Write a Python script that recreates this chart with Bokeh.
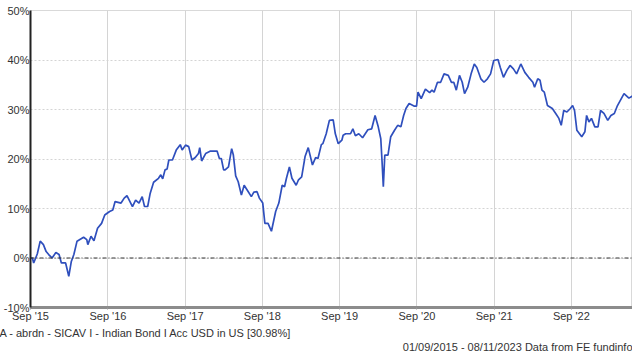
from datetime import datetime
import pandas as pd
from bokeh.plotting import figure
from bokeh.models import Range1d, FixedTicker, Span, Title
from bokeh.embed import file_html
from bokeh.resources import INLINE

dates = [
    "2015-09-01", "2015-09-10", "2015-09-16", "2015-10-03", "2015-10-17", "2015-11-01", "2015-11-14",
    "2015-11-26", "2015-12-12", "2015-12-30", "2016-01-14", "2016-01-25", "2016-02-14", "2016-02-29",
    "2016-03-12", "2016-03-24", "2016-04-08", "2016-05-09", "2016-05-24", "2016-05-29", "2016-06-13",
    "2016-06-27", "2016-07-14", "2016-08-02", "2016-08-17", "2016-09-09", "2016-09-24", "2016-10-05",
    "2016-11-02", "2016-11-17", "2016-11-30", "2016-12-26", "2017-01-10", "2017-01-26", "2017-02-10",
    "2017-02-21", "2017-03-08", "2017-03-20", "2017-04-05", "2017-04-28", "2017-05-09", "2017-05-18",
    "2017-05-29", "2017-06-08", "2017-06-16", "2017-07-03", "2017-07-21", "2017-08-09", "2017-08-18",
    "2017-09-03", "2017-09-18", "2017-10-03", "2017-10-19", "2017-11-03", "2017-11-09", "2017-11-18",
    "2017-12-07", "2017-12-30", "2018-01-30", "2018-02-10", "2018-02-19", "2018-03-02", "2018-03-09",
    "2018-03-25", "2018-04-09", "2018-04-17", "2018-04-28", "2018-05-10", "2018-05-25", "2018-06-07",
    "2018-06-22", "2018-07-11", "2018-07-23", "2018-08-07", "2018-08-18", "2018-09-03", "2018-09-13",
    "2018-09-28", "2018-10-14", "2018-11-03", "2018-11-18", "2018-12-04", "2018-12-15", "2018-12-24",
    "2019-01-07", "2019-01-19", "2019-02-08", "2019-02-19", "2019-03-06", "2019-03-22", "2019-04-06",
    "2019-04-26", "2019-05-11", "2019-05-22", "2019-06-07", "2019-06-14", "2019-06-30", "2019-07-15",
    "2019-08-02", "2019-08-12", "2019-08-26", "2019-09-12", "2019-09-18", "2019-09-30", "2019-10-23",
    "2019-11-03", "2019-11-15", "2019-12-01", "2019-12-19", "2020-01-13", "2020-01-31", "2020-02-16",
    "2020-03-02", "2020-03-14", "2020-03-20", "2020-03-26", "2020-04-02", "2020-04-17", "2020-04-30",
    "2020-05-18", "2020-06-02", "2020-06-17", "2020-06-30", "2020-07-11", "2020-07-26", "2020-08-18",
    "2020-08-30", "2020-09-06", "2020-09-21", "2020-10-11", "2020-10-31", "2020-11-11", "2020-11-21",
    "2020-12-07", "2020-12-22", "2021-01-07", "2021-01-27", "2021-02-11", "2021-02-22", "2021-03-06",
    "2021-03-21", "2021-04-03", "2021-04-14", "2021-04-29", "2021-05-15", "2021-05-30", "2021-06-11",
    "2021-06-30", "2021-07-15", "2021-07-31", "2021-08-15", "2021-08-30", "2021-09-19", "2021-09-30",
    "2021-10-15", "2021-10-31", "2021-11-15", "2021-12-01", "2021-12-16", "2022-01-05", "2022-01-24",
    "2022-02-11", "2022-03-03", "2022-03-11", "2022-03-26", "2022-04-06", "2022-04-15", "2022-04-26",
    "2022-05-11", "2022-06-03", "2022-06-19", "2022-07-04", "2022-07-15", "2022-07-27", "2022-08-11",
    "2022-08-27", "2022-09-07", "2022-09-16", "2022-09-27", "2022-10-20", "2022-11-04", "2022-11-12",
    "2022-11-23", "2022-12-05", "2022-12-21", "2023-01-05", "2023-01-17", "2023-02-02", "2023-02-20",
    "2023-03-07", "2023-03-23", "2023-04-07", "2023-05-08", "2023-05-31", "2023-06-15", "2023-11-08",
]
values = [
    0.0, 0.0, -1.0, 0.8, 3.4, 2.7, 1.3,
    0.7, 0.0, 1.1, 0.7, -1.0, -1.0, -3.7,
    -0.7, 0.7, 3.4, 4.2, 3.7, 2.7, 4.4,
    3.5, 6.0, 7.0, 8.7, 9.4, 9.7, 11.4,
    11.1, 12.1, 12.6, 10.4, 11.7, 11.1, 12.4,
    10.4, 10.4, 13.1, 15.3, 16.1, 16.8, 16.0,
    17.8, 18.0, 19.8, 19.8, 21.8, 22.9, 21.8,
    22.8, 22.5, 19.8, 20.3, 21.1, 22.3, 19.6,
    21.1, 21.6, 21.6, 20.1, 20.1, 17.8, 17.8,
    18.4, 22.1, 20.8, 16.6, 15.4, 12.7, 14.7,
    13.7, 12.4, 13.3, 13.4, 12.1, 11.1, 7.0,
    7.0, 5.4, 9.4, 11.1, 14.7, 14.4, 16.1,
    18.4, 16.1, 14.7, 15.8, 16.4, 20.5, 22.3,
    18.8, 20.3, 20.1, 22.9, 23.1, 25.1, 27.8,
    27.9, 25.1, 23.1, 23.8, 24.8, 25.1, 25.1,
    26.1, 24.7, 25.1, 24.3, 25.9, 26.1, 28.8,
    26.5, 24.1, 19.5, 14.4, 20.8, 20.8, 24.5,
    25.8, 26.8, 26.5, 28.8, 30.2, 31.2, 30.7,
    30.7, 33.5, 32.2, 34.1, 33.4, 33.9, 33.5,
    35.5, 35.5, 37.2, 36.9, 35.5, 35.5, 33.9,
    36.9, 35.5, 33.2, 34.5, 37.2, 39.2, 38.5,
    36.2, 35.5, 36.2, 37.2, 39.9, 40.1, 38.5,
    36.5, 37.9, 38.9, 38.2, 37.2, 39.2, 37.5,
    36.5, 35.5, 34.5, 36.2, 35.9, 33.9, 33.5,
    30.8, 30.2, 29.2, 28.2, 26.8, 29.8, 29.5,
    30.2, 30.8, 29.8, 25.8, 24.5, 25.5, 28.8,
    27.5, 28.2, 26.5, 26.5, 29.8, 29.2, 27.8,
    28.8, 29.2, 30.8, 33.2, 32.3, 32.7, 30.98,
]

tick_dates = ["2015-09-01", "2016-09-01", "2017-09-01", "2018-09-01",
              "2019-09-01", "2020-09-01", "2021-09-01", "2022-09-01"]
tick_labels = ["Sep '15", "Sep '16", "Sep '17", "Sep '18",
               "Sep '19", "Sep '20", "Sep '21", "Sep '22"]
y_ticks = [-10, 0, 10, 20, 30, 40, 50]
y_labels = ["-10%", "0%", "10%", "20%", "30%", "40%", "50%"]
legend_text = "A - abrdn - SICAV I - Indian Bond I Acc USD in US [30.98%]"
footer_text = "01/09/2015 - 08/11/2023 Data from FE fundinfo"

FONT = "Liberation Sans"
TXT = "#333333"

x = pd.to_datetime(dates)
tick_ms = [float(pd.Timestamp(d).value // 10**6) for d in tick_dates]

p = figure(width=632, height=352, output_backend="svg", toolbar_location=None,
           x_axis_type="datetime",
           x_range=Range1d(datetime(2015, 9, 1), datetime(2023, 6, 17)),
           y_range=Range1d(-10, 50),
           min_border_left=0, min_border_right=0, min_border_top=10, min_border_bottom=0)
p.outline_line_color = "#d9d9d9"
p.background_fill_color = "white"
p.border_fill_color = "white"

# axes
p.xaxis.ticker = FixedTicker(ticks=tick_ms)
p.xaxis.major_label_overrides = dict(zip(tick_ms, tick_labels))
p.xaxis.axis_line_color = "#8c8c8c"
p.xaxis.axis_line_width = 3
p.xaxis.major_tick_line_color = "#999999"
p.xaxis.major_tick_in = 0
p.xaxis.major_tick_out = 2
p.xaxis.minor_tick_line_color = None
p.xaxis.major_label_standoff = 0
p.xaxis.major_label_text_font = FONT
p.xaxis.major_label_text_font_size = "11px"
p.xaxis.major_label_text_color = TXT

p.yaxis.ticker = FixedTicker(ticks=y_ticks)
p.yaxis.major_label_overrides = dict(zip(y_ticks, y_labels))
p.yaxis.axis_line_color = "#222222"
p.yaxis.axis_line_width = 2
p.yaxis.major_tick_line_color = None
p.yaxis.major_tick_in = 0
p.yaxis.major_tick_out = 0
p.yaxis.minor_tick_line_color = None
p.yaxis.major_label_standoff = 1
p.yaxis.major_label_text_font = FONT
p.yaxis.major_label_text_font_size = "11px"
p.yaxis.major_label_text_color = TXT

# grids
p.xgrid.ticker = FixedTicker(ticks=tick_ms)
p.xgrid.grid_line_color = "#d4d4d4"
p.xgrid.grid_line_width = 1
p.ygrid.ticker = FixedTicker(ticks=y_ticks)
p.ygrid.grid_line_color = "#d4d4d4"
p.ygrid.grid_line_dash = "2 2"

p.add_layout(Span(location=0, dimension="width", line_color="#333333",
                  line_width=1, line_dash="4 2 1 2"))

p.line(x, values, line_color="#2f4fbd", line_width=1.7)

t1 = Title(text=legend_text, align="left", offset=-31, standoff=0,
           text_font=FONT, text_font_size="11px", text_font_style="normal", text_color=TXT)
t2 = Title(text=footer_text, align="right", offset=0, standoff=0,
           text_font=FONT, text_font_size="11px", text_font_style="normal", text_color=TXT)
p.add_layout(t1, "below")
p.add_layout(t2, "below")

open("out.html", "w").write(file_html(p, INLINE))
